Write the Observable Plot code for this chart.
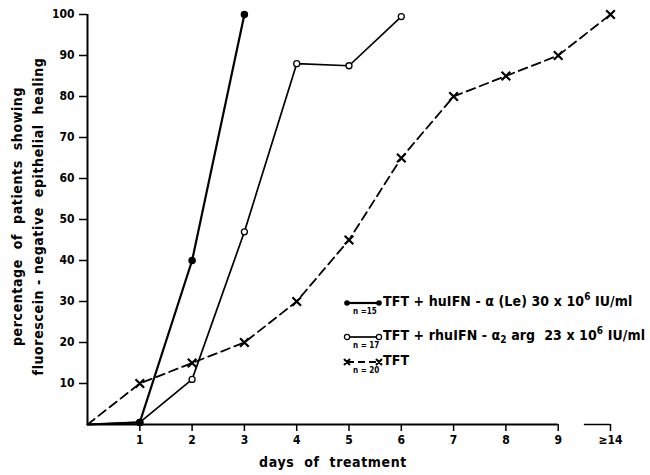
<!DOCTYPE html>
<html><head><meta charset="utf-8">
<script src="https://cdn.jsdelivr.net/npm/d3@7"></script>
<script src="https://cdn.jsdelivr.net/npm/@observablehq/plot@0.6"></script>
<style>
body{margin:0;background:#fff;}
#wrap{position:relative;width:650px;height:475px;font-family:"DejaVu Sans Condensed","DejaVu Sans",sans-serif;color:#000;}
#legend{position:absolute;left:343px;top:0;font-size:14px;font-weight:bold;letter-spacing:0.1px;}
.row{position:absolute;left:0;white-space:nowrap;height:22px;}
.row svg{position:absolute;left:0;top:0;}
.row .lab{position:absolute;left:40px;top:1px;}
.row .n{position:absolute;left:10px;top:15px;font-size:8px;letter-spacing:0;}
sup{font-size:10px;vertical-align:6px;line-height:0;}
sub{font-size:10px;vertical-align:-3px;line-height:0;}
</style></head><body><div id="wrap"></div>
<script>
const days = [0, 1, 2, 3, 4, 5, 6, 7, 8, 9, 10];
const dayLabels = ["", "1", "2", "3", "4", "5", "6", "7", "8", "9", "≥14"];
const huIFN = [0, 0.5, 40, 100];
const rhuIFN = [0, 0.5, 11, 47, 88, 87.5, 99.5];
const tft = [0, 10, 15, 20, 30, 45, 65, 80, 85, 90, 100];
const yTicks = [10, 20, 30, 40, 50, 60, 70, 80, 90, 100];
const yTitle = ["percentage  of  patients  showing", "fluorescein - negative  epithelial  healing"];
const xTitle = "days  of  treatment";
const legendLabels = [
  "TFT + huIFN - α (Le) 30 x 10<sup>6</sup> IU/ml",
  "TFT + rhuIFN - α<sub>2</sub> arg&nbsp; 23 x 10<sup>6</sup> IU/ml",
  "TFT"
];
const legendN = ["n =15", "n = 17", "n = 20"];

const rows = vals => vals.map((v, i) => ({day: days[i], value: v}));
const huRows = rows(huIFN), rhuRows = rows(rhuIFN), tftRows = rows(tft);
const nb = s => s.replace(/ /g, "\u00a0");

const font = '"DejaVu Sans Condensed","DejaVu Sans",sans-serif';
const chart = Plot.plot({
  width: 650, height: 475,
  marginLeft: 87, marginRight: 40, marginTop: 14, marginBottom: 51,
  style: {fontFamily: font, fontSize: "12px", fontWeight: "bold", color: "#000", background: "#fff"},
  x: {domain: [0, 10]},
  y: {domain: [0, 100]},
  marks: [
    Plot.axisY({ticks: yTicks, tickSize: 8, tickPadding: 5, label: null, tickFormat: d => d, strokeWidth: 1.5}),
    Plot.axisX({ticks: days.slice(1), tickSize: 7, tickPadding: 4, label: null, tickFormat: d => dayLabels[d], strokeWidth: 1.5}),
    Plot.ruleX([0], {y1: 0, y2: 100, strokeWidth: 2}),
    Plot.ruleY([0], {x1: 0, x2: 9, strokeWidth: 2}),
    Plot.ruleY([0], {x1: 9.5, x2: 10, strokeWidth: 1.5}),
    Plot.text([nb(yTitle.join("\n"))], {
      frameAnchor: "left", textAnchor: "middle", rotate: -90, dx: -62, dy: -3, fontSize: 14, lineHeight: 1.5, fontWeight: "bold"
    }),
    Plot.text([nb(xTitle)], {frameAnchor: "bottom", dx: -16, dy: 42, fontSize: 14, fontWeight: "bold"}),
    Plot.line(tftRows, {x: "day", y: "value", strokeWidth: 1.8, strokeDasharray: "9,5"}),
    Plot.line(rhuRows, {x: "day", y: "value", strokeWidth: 1.7}),
    Plot.line(huRows, {x: "day", y: "value", strokeWidth: 2.2}),
    Plot.dot(tftRows.slice(1), {x: "day", y: "value", symbol: "times", r: 4, strokeWidth: 2.2, stroke: "#000"}),
    Plot.dot(rhuRows.slice(1), {x: "day", y: "value", r: 3, fill: "#fff", stroke: "#000", strokeWidth: 1.3}),
    Plot.dot(huRows.slice(1), {x: "day", y: "value", r: 3, fill: "#000", stroke: "#000"})
  ]
});
d3.select(chart).selectAll('g[aria-label="text"]').style("letter-spacing", "0.6px");
const wrap = document.getElementById("wrap");
wrap.appendChild(chart);

const legend = document.createElement("div");
legend.id = "legend";
const rowTops = [292, 326, 351];
const symbols = [
  '<line x1="4" y1="11" x2="36" y2="11" stroke="#000" stroke-width="2.2"/><circle cx="4" cy="11" r="2.8" fill="#000"/><circle cx="36" cy="11" r="2.8" fill="#000"/>',
  '<line x1="4" y1="11" x2="36" y2="11" stroke="#000" stroke-width="1.7"/><circle cx="4" cy="11" r="2.6" fill="#fff" stroke="#000" stroke-width="1.2"/><circle cx="36" cy="11" r="2.6" fill="#fff" stroke="#000" stroke-width="1.2"/>',
  '<line x1="4" y1="11" x2="36" y2="11" stroke="#000" stroke-width="1.8" stroke-dasharray="7,4"/><path d="M1,8L7,14M7,8L1,14M33,8L39,14M39,8L33,14" stroke="#000" stroke-width="2"/>'
];
legendLabels.forEach((lab, i) => {
  const r = document.createElement("div");
  r.className = "row";
  r.style.top = rowTops[i] + "px";
  r.innerHTML = `<svg width="40" height="22">${symbols[i]}</svg><span class="lab">${lab}</span><span class="n">${legendN[i]}</span>`;
  legend.appendChild(r);
});
wrap.appendChild(legend);
</script></body></html>
